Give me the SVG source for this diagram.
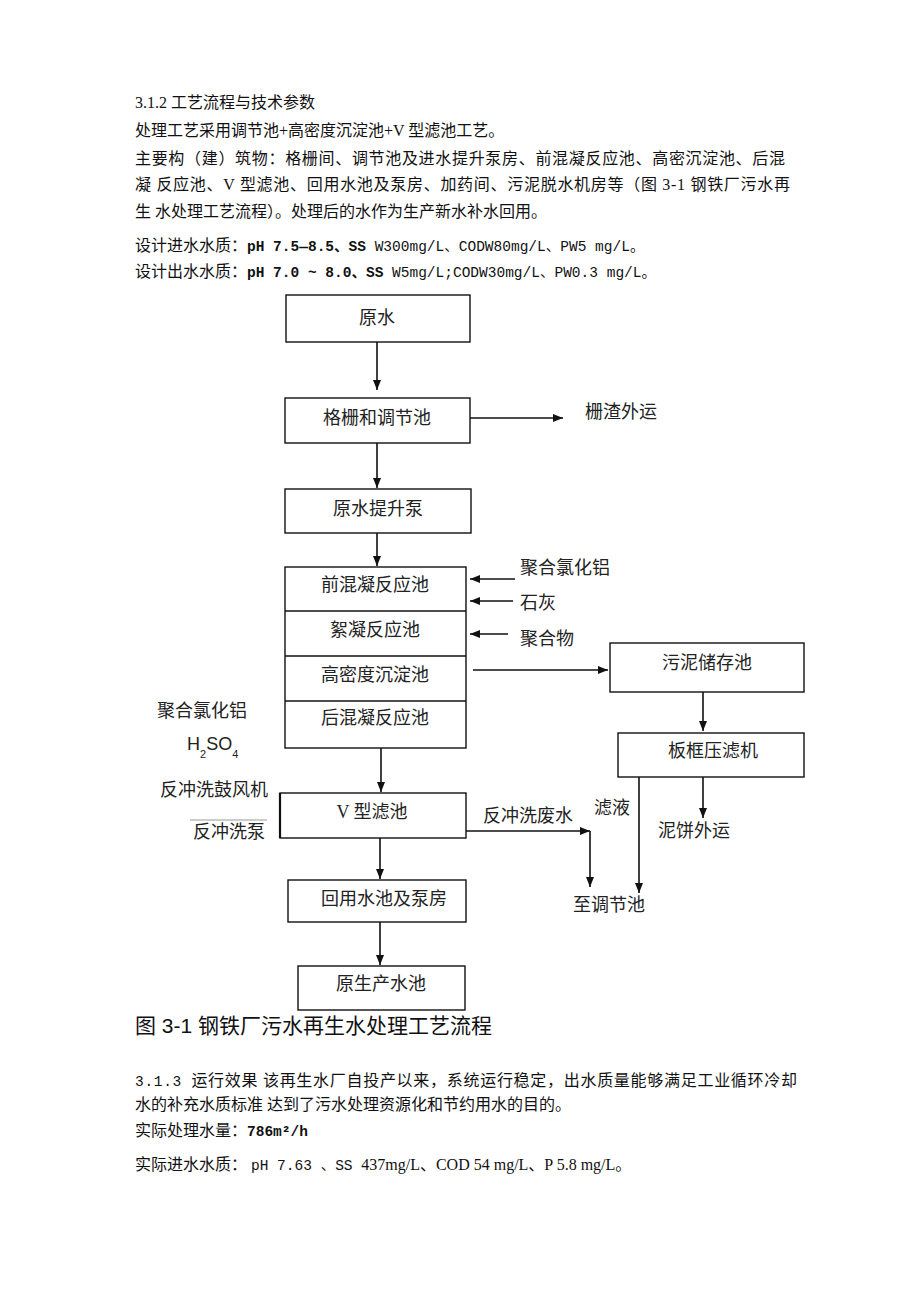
<svg xmlns="http://www.w3.org/2000/svg" width="920" height="1302" viewBox="0 0 920 1302">
<style>
.body{font-family:"Liberation Serif","Noto Sans CJK SC",serif;font-size:16px;fill:#111}
.mono{font-family:"Liberation Mono","Noto Sans CJK SC",monospace;font-size:14.5px}
.lbl{font-family:"Liberation Serif","Noto Sans CJK SC",serif;font-size:18px;fill:#222}
.c{text-anchor:middle}
.box{fill:#fff;stroke:#111;stroke-width:1.4}
.ln{stroke:#111;stroke-width:1.6;fill:none}
.cap{font-family:"Liberation Sans","Noto Sans CJK SC",sans-serif;font-size:21px;fill:#111}
</style>
<defs>
<marker id="ah" markerWidth="11" markerHeight="9" refX="10" refY="4" orient="auto" markerUnits="userSpaceOnUse">
<path d="M0,0 L10,4 L0,8 z" fill="#111"/>
</marker>
</defs>
<rect width="920" height="1302" fill="#fff"/>

<g id="top-text">
<text class="body" x="135" y="108">3.1.2 工艺流程与技术参数</text>
<text class="body" x="135" y="136">处理工艺采用调节池+高密度沉淀池+V 型滤池工艺。</text>
<text class="body" x="135" y="164" textLength="650">主要构（建）筑物：格栅间、调节池及进水提升泵房、前混凝反应池、高密沉淀池、后混</text>
<text class="body" x="135" y="190" textLength="655">凝 反应池、V 型滤池、回用水池及泵房、加药间、污泥脱水机房等（图 3-1 钢铁厂污水再</text>
<text class="body" x="135" y="217">生 水处理工艺流程）。处理后的水作为生产新水补水回用。</text>
<text class="body" x="135" y="251">设计进水水质：<tspan class="mono" font-weight="bold">pH 7.5—8.5、SS</tspan><tspan class="mono"> W300mg/L、CODW80mg/L、PW5 mg/L。</tspan></text>
<text class="body" x="135" y="277">设计出水水质：<tspan class="mono" font-weight="bold">pH 7.0 ~ 8.0、SS</tspan><tspan class="mono"> W5mg/L;CODW30mg/L、PW0.3 mg/L。</tspan></text>
</g>

<g id="connectors">
<line class="ln" x1="377" y1="342" x2="377" y2="390" marker-end="url(#ah)"/>
<line class="ln" x1="470" y1="418" x2="563" y2="418" marker-end="url(#ah)"/>
<line class="ln" x1="377" y1="443" x2="377" y2="488" marker-end="url(#ah)"/>
<line class="ln" x1="377" y1="533" x2="377" y2="566" marker-end="url(#ah)"/>
<line class="ln" x1="515" y1="579" x2="470" y2="579" marker-end="url(#ah)"/>
<line class="ln" x1="513" y1="601" x2="470" y2="601" marker-end="url(#ah)"/>
<line class="ln" x1="508" y1="634" x2="470" y2="634" marker-end="url(#ah)"/>
<line class="ln" x1="473" y1="670" x2="608" y2="670" marker-end="url(#ah)"/>
<line class="ln" x1="703" y1="692" x2="703" y2="731" marker-end="url(#ah)"/>
<line class="ln" x1="703" y1="777" x2="703" y2="818" marker-end="url(#ah)"/>
<line class="ln" x1="639" y1="777" x2="639" y2="893" marker-end="url(#ah)"/>
<line class="ln" x1="381" y1="748" x2="381" y2="792" marker-end="url(#ah)"/>
<line class="ln" x1="466" y1="831" x2="590" y2="831" marker-end="url(#ah)"/>
<line class="ln" x1="590" y1="831" x2="590" y2="887" marker-end="url(#ah)"/>
<line class="ln" x1="380" y1="838" x2="380" y2="879" marker-end="url(#ah)"/>
<line class="ln" x1="380" y1="922" x2="380" y2="965" marker-end="url(#ah)"/>
<line x1="190" y1="820" x2="267" y2="820" stroke="#999" stroke-width="1"/>
</g>

<g id="n-yuanshui"><rect class="box" x="286" y="295" width="184" height="47"/><text class="lbl c" x="377" y="324">原水</text></g>
<g id="n-geshan"><rect class="box" x="285" y="398" width="185" height="45"/><text class="lbl c" x="377" y="424">格栅和调节池</text></g>
<g id="n-zhazha"><text class="lbl" x="585" y="418">栅渣外运</text></g>
<g id="n-tisheng"><rect class="box" x="285" y="489" width="186" height="44" stroke-width="2"/><text class="lbl c" x="378" y="515">原水提升泵</text></g>
<g id="n-block">
<rect class="box" x="285" y="567" width="181" height="181" stroke-width="1.8"/>
<line class="ln" x1="285" y1="611" x2="466" y2="611" stroke-width="1.2"/>
<line class="ln" x1="285" y1="656" x2="466" y2="656" stroke-width="1.2"/>
<line class="ln" x1="285" y1="701" x2="466" y2="701" stroke-width="1.2"/>
<text class="lbl c" x="375" y="591">前混凝反应池</text>
<text class="lbl c" x="375" y="636">絮凝反应池</text>
<text class="lbl c" x="375" y="681">高密度沉淀池</text>
<text class="lbl c" x="375" y="724">后混凝反应池</text>
</g>
<g id="n-pac1"><text class="lbl" x="520" y="574">聚合氯化铝</text></g>
<g id="n-lime"><text class="lbl" x="520" y="609">石灰</text></g>
<g id="n-polymer"><text class="lbl" x="520" y="645">聚合物</text></g>
<g id="n-wunichucun"><rect class="box" x="610" y="643" width="194" height="49"/><text class="lbl c" x="707" y="669">污泥储存池</text></g>
<g id="n-banku"><rect class="box" x="618" y="733" width="186" height="44"/><text class="lbl c" x="713" y="757">板框压滤机</text></g>
<g id="n-lvye"><text class="lbl" x="594" y="814">滤液</text></g>
<g id="n-nibing"><text class="lbl" x="658" y="837">泥饼外运</text></g>
<g id="n-fanchongfeishui"><text class="lbl" x="483" y="822">反冲洗废水</text></g>
<g id="n-zhitiaojie"><text class="lbl" x="573" y="911">至调节池</text></g>
<g id="n-pac2"><text class="lbl" x="157" y="717">聚合氯化铝</text></g>
<g id="n-h2so4"><text x="187" y="750" font-family="Liberation Sans, sans-serif" font-size="18" fill="#222">H<tspan font-size="11" dy="8">2</tspan><tspan font-size="18" dy="-8">SO</tspan><tspan font-size="11" dy="8">4</tspan></text></g>
<g id="n-gufengji"><text class="lbl" x="160" y="796">反冲洗鼓风机</text></g>
<g id="n-beng"><text class="lbl" x="193" y="838">反冲洗泵</text></g>
<g id="n-vlvchi"><rect class="box" x="280" y="793" width="186" height="45"/><line x1="280" y1="793" x2="280" y2="838" stroke="#111" stroke-width="2.2"/><text class="lbl c" x="372" y="818">V 型滤池</text></g>
<g id="n-huiyong"><rect class="box" x="288" y="880" width="178" height="42"/><text class="lbl c" x="384" y="905">回用水池及泵房</text></g>
<g id="n-yuanshengchan"><rect class="box" x="298" y="966" width="167" height="44"/><text class="lbl c" x="381" y="990">原生产水池</text></g>

<g id="caption"><text class="cap" x="135" y="1033">图 3-1 钢铁厂污水再生水处理工艺流程</text></g>

<g id="bottom-text">
<text class="body" x="135" y="1086" textLength="662"><tspan class="mono">3.1.3 </tspan>运行效果 该再生水厂自投产以来，系统运行稳定，出水质量能够满足工业循环冷却</text>
<text class="body" x="135" y="1110">水的补充水质标准 达到了污水处理资源化和节约用水的目的。</text>
<text class="body" x="135" y="1136">实际处理水量：<tspan class="mono" font-weight="bold">786m²/h</tspan></text>
<text class="body" x="135" y="1170">实际进水水质： <tspan class="mono">pH 7.63 、SS </tspan>437mg/L、COD 54 mg/L、P 5.8 mg/L。</text>
</g>
</svg>
